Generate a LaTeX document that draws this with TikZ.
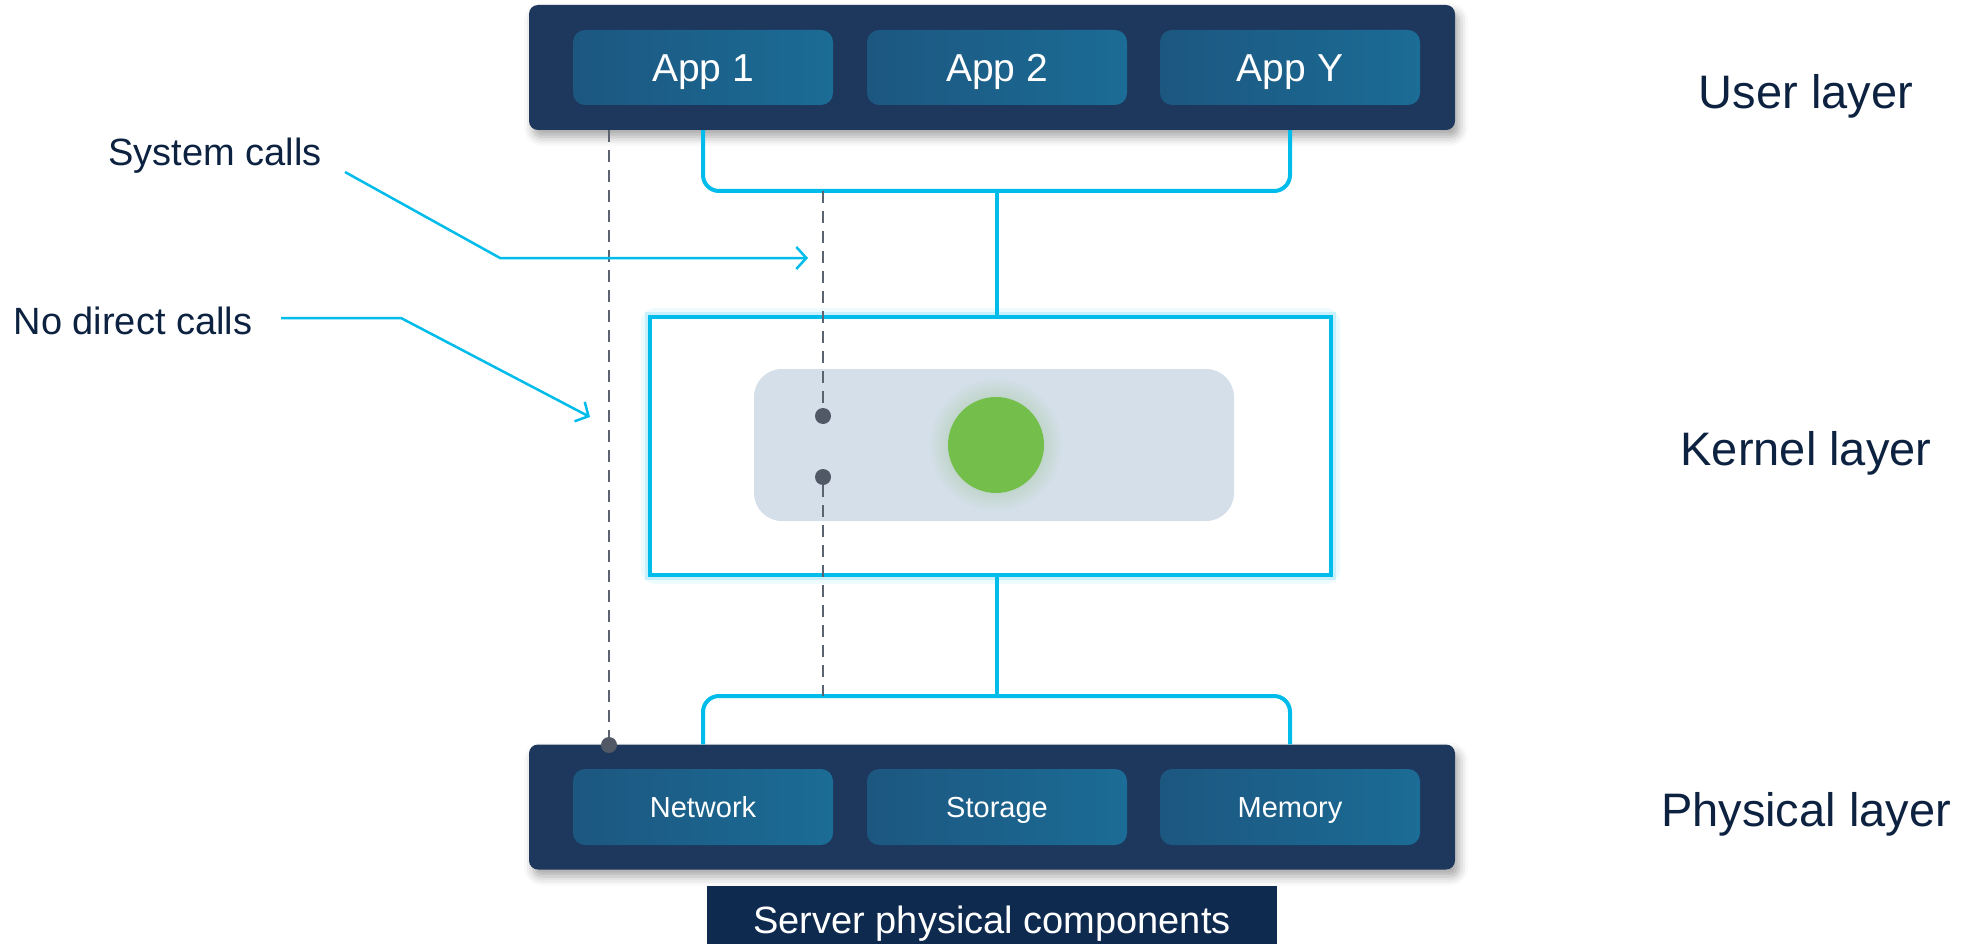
\documentclass[tikz,border=0pt]{standalone}
\usepackage{fontspec}
\setmainfont{Liberation Sans}
\usetikzlibrary{arrows.meta,shadows.blur}

\definecolor{navy}{HTML}{1E375C}
\definecolor{appL}{HTML}{1C5780}
\definecolor{appR}{HTML}{1B6C96}
\definecolor{cyanline}{HTML}{00BCEB}
\definecolor{ink}{HTML}{0D2240}
\definecolor{callgray}{HTML}{5B6371}
\definecolor{kernfill}{HTML}{D4DFEA}
\definecolor{leaf}{HTML}{74BF4B}
\definecolor{labelbg}{HTML}{0F2A4F}

\newcommand\setfs[1]{\fontsize{#1}{#1}\selectfont}

\begin{document}
\begin{tikzpicture}[x=1pt,y=-1pt,
  layerbox/.style={rectangle, rounded corners=9pt, fill=navy, inner sep=0pt,
    minimum width=926pt, minimum height=125pt,
    blur shadow={shadow xshift=4pt, shadow yshift=-7pt, shadow blur radius=9pt, shadow opacity=35}},
  appbox/.style={rectangle, rounded corners=12pt, left color=appL, right color=appR,
    minimum width=260pt, minimum height=75pt, inner sep=0pt, text=white,
    font=\setfs{39}, text height=28pt, text depth=0pt},
  hwbox/.style={appbox, minimum height=76pt, font=\setfs{29}, text height=20.8pt},
  bus/.style={draw=cyanline, line width=4pt, rounded corners=16pt},
  calls/.style={draw=callgray, line width=2.5pt, dash pattern=on 12pt off 8pt},
  calldot/.style={circle, fill=callgray!90!black, minimum size=16pt, inner sep=0pt},
  pointer/.style={draw=cyanline, line width=2.5pt, -{Straight Barb[length=10pt, width=22pt, line width=2.5pt]}},
  callout/.style={text=ink, font=\setfs{38}, text height=27.2pt, text depth=0pt, inner sep=0pt},
  layerlabel/.style={text=ink, font=\setfs{47}, text height=33.7pt, text depth=0pt, inner sep=0pt},
]
\useasboundingbox (0,0) rectangle (1967,944);

% ---- user layer ----
\node[layerbox] (user) at (992,67.5) {};
\node[appbox] (app1) at (703,67.5) {App 1};
\node[appbox] (app2) at (997,67.5) {App 2};
\node[appbox] (appY) at (1290,67.5) {App Y};

% ---- physical layer ----
\node[layerbox] (phys) at (992,807) {};
\node[hwbox] (net) at (703,807) {Network};
\node[hwbox] (sto) at (997,807) {Storage};
\node[hwbox] (mem) at (1290,807) {Memory};

% ---- kernel layer with soft glow ----
\draw[cyanline, opacity=0.07, line width=18pt, rounded corners=6pt] (650,317) rectangle (1331,575);
\draw[cyanline, opacity=0.15, line width=10pt] (650,317) rectangle (1331,575);
\node[draw=cyanline, line width=4pt, fill=white, minimum width=681pt, minimum height=258pt, inner sep=0pt]
  (kernel) at (990.5,446) {};
\node[fill=kernfill, rounded corners=28pt, minimum width=480pt, minimum height=152pt, inner sep=0pt]
  (core) at (994,445) {};
\foreach \r in {50,52,...,66}
  \fill[leaf, opacity=0.018] (996,445) circle (\r pt);
\node[circle, fill=leaf, minimum size=96pt, inner sep=0pt] (proc) at (996,445) {};

% ---- buses ----
\coordinate (busU) at (997,191);
\coordinate (busL) at (997,696);
\draw[bus] (app1.south |- user.south) |- (busU) -| (appY.south |- user.south);
\draw[bus] (busU) -- (kernel.north -| busU);
\draw[bus] (kernel.south -| busL) -- (busL);
\draw[bus] (net.north |- phys.north) |- (busL) -| (mem.north |- phys.north);

% ---- call paths ----
\node[calldot] (sc1) at (823,416) {};
\node[calldot] (sc2) at (823,477) {};
\node[calldot] (hw) at (609,745) {};
\draw[calls] (sc1 |- busU) -- (sc1);
\draw[calls] (sc2) -- (sc2 |- busL);
\draw[calls] (hw |- user.south) -- (hw);

% ---- callouts ----
\node[callout] (sys) at (215,152) {System calls};
\coordinate (sysA) at (345,172);
\coordinate (sysB) at (500,258);
\coordinate (sysT) at (808,258);
\draw[pointer] (sysA) -- (sysB) -- (sysT);

\node[callout] (nodir) at (133,321) {No direct calls};
\coordinate (ndA) at (281,318);
\coordinate (ndB) at (401,318);
\coordinate (ndT) at (590,417);
\draw[pointer] (ndA) -- (ndB) -- (ndT);

% ---- layer labels ----
\node[layerlabel] (lu) at (1806,92) {User layer};
\node[layerlabel] (lk) at (1806,449) {Kernel layer};
\node[layerlabel] (lp) at (1806,810) {Physical layer};

% ---- caption ----
\node[fill=labelbg, text=white, font=\setfs{38}, text height=27.2pt, text depth=0pt,
  minimum width=570pt, minimum height=68pt, inner sep=0pt] (server) at (992,920) {Server physical components};
\end{tikzpicture}
\end{document}
